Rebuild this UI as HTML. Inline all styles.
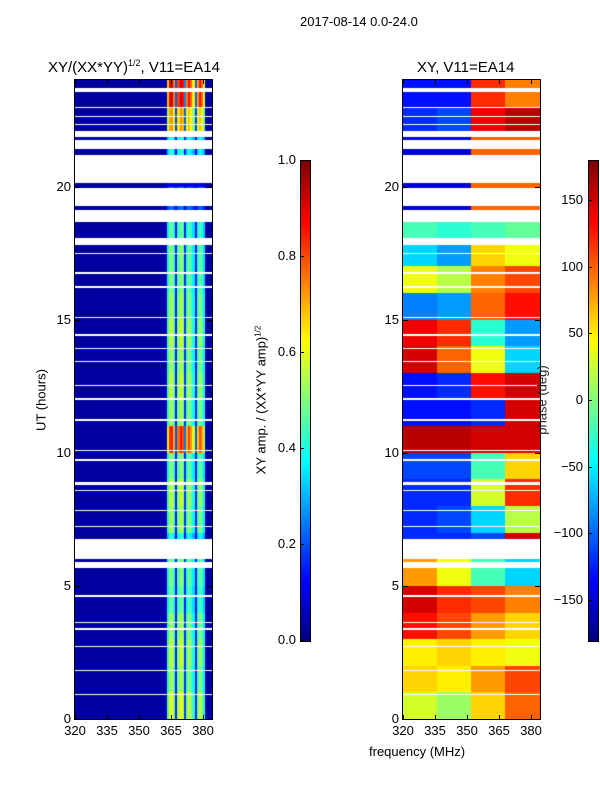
<!DOCTYPE html>
<html><head><meta charset="utf-8">
<style>
body{margin:0;background:#fff;font-family:"Liberation Sans",sans-serif;}
#root{position:relative;width:600px;height:800px;overflow:hidden;background:#fff;}
.t{position:absolute;font-size:13px;color:#000;white-space:nowrap;}
.tk{position:absolute;font-size:13px;color:#000;white-space:nowrap;}
canvas{position:absolute;}
.frame{position:absolute;border:1px solid #000;box-sizing:border-box;}
</style></head>
<body>
<div id="root">
<div class="t" style="left:300px;top:14px;">2017-08-14 0.0-24.0</div>
<div class="t" style="left:48px;top:58px;font-size:15px;">XY/(XX*YY)<sup style="font-size:9px;">1/2</sup>, V11=EA14</div>
<div class="t" style="left:417px;top:59px;font-size:15px;">XY, V11=EA14</div>
<canvas id="amp" width="137" height="639" style="left:75px;top:80px;"></canvas>
<canvas id="phs" width="137" height="639" style="left:403px;top:80px;"></canvas>
<div class="frame" style="left:74px;top:79px;width:139px;height:641px;"></div>
<div class="frame" style="left:402px;top:79px;width:139px;height:641px;"></div>
<canvas id="cb1" width="9" height="480" style="left:300px;top:160px;border:1px solid #000;"></canvas>
<canvas id="cb2" width="9" height="480" style="left:588px;top:160px;border:1px solid #000;"></canvas>
<div class="t" style="left:41px;top:400px;transform:translate(-50%,-50%) rotate(-90deg);">UT (hours)</div>
<div class="t" style="left:261px;top:400px;transform:translate(-50%,-50%) rotate(-90deg);">XY amp. / (XX*YY amp)<sup style="font-size:8px;">1/2</sup></div>
<div class="t" style="left:542px;top:400px;transform:translate(-50%,-50%) rotate(-90deg);color:#222;">phase (deg)</div>
<div class="t" style="left:369px;top:744px;">frequency (MHz)</div>
</div>
<script>
// ---- data ----
const freqTicks = [320, 335, 350, 365, 380];
const hourTicks = [0, 5, 10, 15, 20];
const ampTicks = [0.0, 0.2, 0.4, 0.6, 0.8, 1.0];
const phaseTicks = [-150, -100, -50, 0, 50, 100, 150];
// flagged (blank) UT intervals, hours
const gapStart = [23.55,22.95,22.6,22.3,21.85,21.4,20.15,19.25,18.65,17.8,17.45,16.7,16.2,15.05,14.4,13.9,13.4,12.5,12.0,11.2,10.05,9.7,8.8,8.55,7.8,7.2,6.0,5.68,4.6,3.6,3.35,2.7,1.8,1.4,0.9];
const gapEnd   = [23.7,23.0,22.65,22.35,22.1,21.75,21.2,19.95,19.1,18.05,17.5,16.8,16.25,15.1,14.45,13.95,13.45,12.55,12.05,11.25,10.1,9.75,8.9,8.6,7.85,7.25,6.75,5.9,4.65,3.65,3.4,2.75,1.85,1.4,0.95];
// amplitude: channel profile (1 MHz bins, 320..383) and per-hour strength
const ampChanProfile = [0.03,0.03,0.03,0.03,0.03,0.03,0.03,0.03,0.03,0.03,0.03,0.03,0.03,0.03,0.03,0.03,
 0.03,0.03,0.03,0.03,0.03,0.03,0.03,0.03,0.03,0.03,0.03,0.03,0.03,0.03,0.03,0.03,
 0.03,0.03,0.03,0.03,0.03,0.03,0.03,0.03,0.04,0.04,0.06,0.45,0.6,0.62,0.5,0.12,
 0.55,0.62,0.58,0.15,0.5,0.58,0.52,0.42,0.12,0.48,0.58,0.52,0.4,0.04,0.03,0.03];
const ampHourStrength = [0.9,0.8,0.85,0.8,0.7,0.75,0.6,0.8,0.85,0.75,1.3,0.8,0.85,0.8,0.85,0.8,0.75,0.75,0.7,0.3,0.1,0.6,1.1,1.4];
// phase (deg) per hour for four frequency segments: 320-336, 336-352, 352-368, 368-384
const phaseSeg1 = [30,60,50,130,150,80,-120,-120,-120,-110,160,-130,-130,150,140,-90,40,-60,-20,-150,-150,-150,-120,-130];
const phaseSeg2 = [10,50,60,110,120,40,-120,-110,-120,-110,160,-130,-120,100,120,-80,20,-80,-30,-150,-150,-150,-110,-130];
const phaseSeg3 = [60,80,50,80,110,-20,-110,-60,30,-20,150,-120,130,40,-30,100,90,60,-20,100,100,100,140,120];
const phaseSeg4 = [100,110,40,60,90,-60,150,20,120,60,150,150,150,-60,-80,130,110,40,-10,100,100,100,160,90];

// ---- axes ----
const W=137,H=639, f0=320,f1=384.2;
const xf=f=>(f-f0)/(f1-f0)*W;
const yh=h=>H-h/24*H;
function jet(v){v=Math.max(0,Math.min(1,v));
 const r=Math.max(0,Math.min(1,Math.min(4*v-1.5,-4*v+4.5)));
 const g=Math.max(0,Math.min(1,Math.min(4*v-0.5,-4*v+3.5)));
 const b=Math.max(0,Math.min(1,Math.min(4*v+0.5,-4*v+2.5)));
 return `rgb(${r*255|0},${g*255|0},${b*255|0})`;}
function flagged(h){for(let i=0;i<gapStart.length;i++)if(h>=gapStart[i]&&h<gapEnd[i])return true;return false;}
const ca=document.getElementById('amp').getContext('2d');
for(let py=0;py<H;py++){ const h=(H-py-0.5)/H*24; if(flagged(h))continue;
 const s=ampHourStrength[Math.min(23,Math.floor(h))];
 for(let c=0;c<ampChanProfile.length;c++){
  const p=ampChanProfile[c]; const v=p>0.09?p*s+0.05:p;
  ca.fillStyle=jet(v);
  const x0=Math.round(xf(f0+c)),x1=Math.round(xf(f0+c+1));
  ca.fillRect(x0,py,x1-x0,1);
 }}
const cp=document.getElementById('phs').getContext('2d');
const segs=[phaseSeg1,phaseSeg2,phaseSeg3,phaseSeg4];
for(let py=0;py<H;py++){ const h=(H-py-0.5)/H*24; if(flagged(h))continue;
 const hi=Math.min(23,Math.floor(h));
 for(let s=0;s<4;s++){
  const ph=segs[s][hi];
  cp.fillStyle=jet((ph+180)/360);
  const x0=Math.round(xf(f0+s*16)),x1=Math.round(xf(f0+(s+1)*16));
  cp.fillRect(x0,py,x1-x0,1);
 }}
for(const id of ['cb1','cb2']){const c=document.getElementById(id).getContext('2d');
 for(let y=0;y<480;y++){c.fillStyle=jet(1-y/480);c.fillRect(0,y,9,1);}}
const root=document.getElementById('root');
function lab(txt,x,y,name,align){const d=document.createElement('div');d.className='tk';d.textContent=txt;
 
 
 d.style.top=(y-8)+'px';
 if(align==='c'){d.style.left=x+'px';d.style.transform='translateX(-50%)';}
 else{d.style.right=(600-x)+'px';}
 root.appendChild(d);}
function tick(x,y,w,h,name){const d=document.createElement('div');
 
 
 d.style.cssText=`position:absolute;left:${x}px;top:${y}px;width:${w}px;height:${h}px;background:#000;`;root.appendChild(d);}
for(const left of [75,403]){
 freqTicks.forEach(f=>{const x=left+xf(f);lab(String(f),x,731,'x-tick-label','c');tick(x,715,1,5,'x-tick');tick(x,80,1,4,'x-tick-top');});
 hourTicks.forEach(h=>{const y=80+yh(h);lab(String(h),left-4,y,'y-tick-label','r');tick(left,y,5,1,'y-tick');tick(left+W-5,y,5,1,'y-tick-right');});
}
ampTicks.forEach(v=>{const y=160+480-v*480;lab(v.toFixed(1),296,y,'colorbar1-tick-label','r');tick(300,y,4,1,'colorbar1-tick');});
phaseTicks.forEach(v=>{const y=160+480-(v+180)/360*480;lab(v<0?'\u2212'+(-v):String(v),583,y,'colorbar2-tick-label','r');tick(588,y,4,1,'colorbar2-tick');});
</script>
</body></html>
